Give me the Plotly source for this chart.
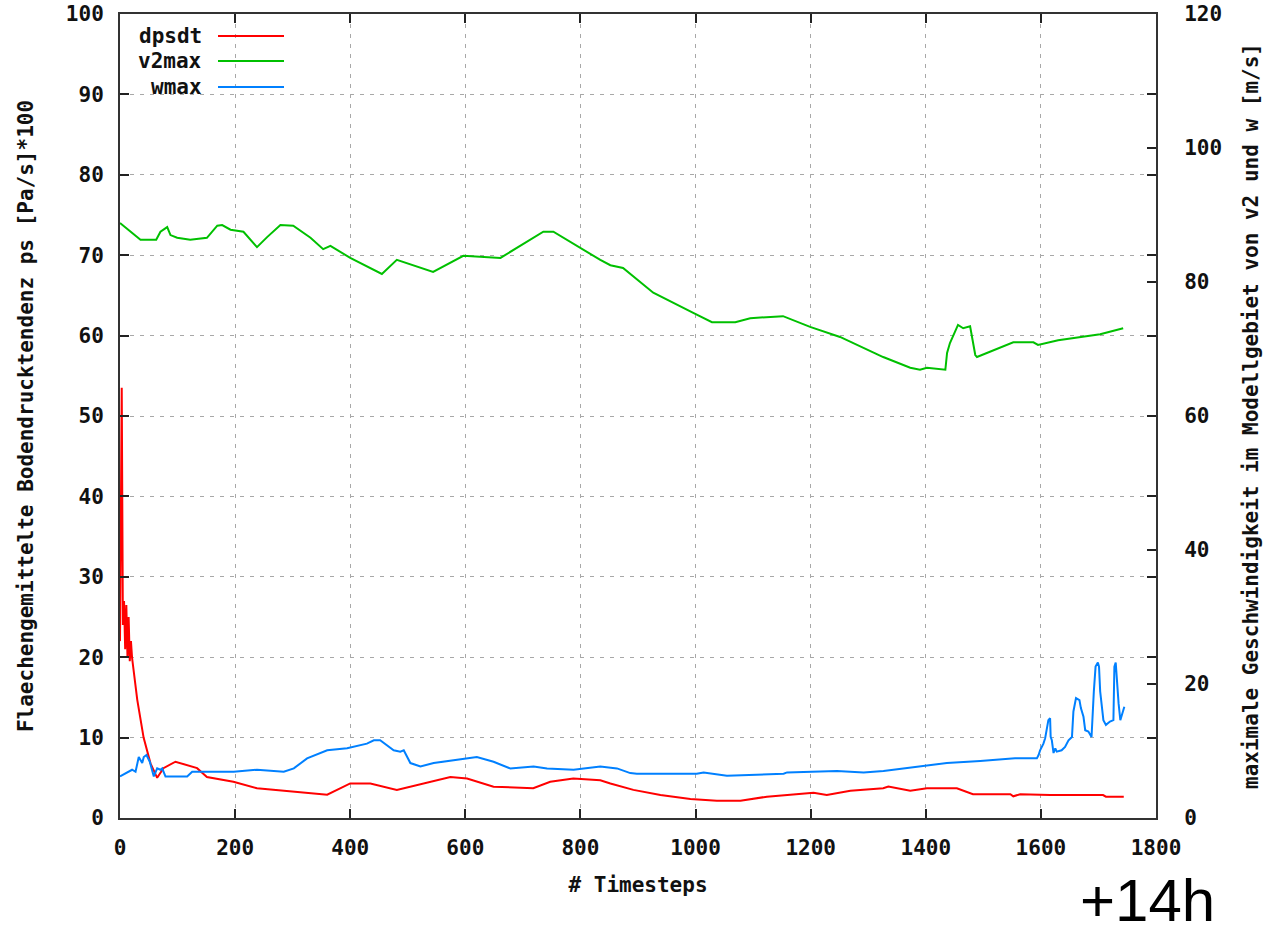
import plotly.graph_objects as go

# ---- data ----
dpsdt_x = [0, 3, 5, 7, 9, 11, 13, 15, 17, 19, 21, 30, 41, 53, 64.6, 75.5, 96.4, 134, 151, 197, 238, 301,
           360, 400, 435, 481, 574, 603, 649, 718, 747.5, 787.6, 834.5, 852, 892, 939, 991, 1037, 1078,
           1124, 1152, 1205, 1228, 1269, 1326, 1335, 1373, 1402, 1454, 1482, 1547, 1552, 1564, 1616,
           1708, 1713, 1744]
dpsdt_y = [22, 53.5, 24, 27, 21, 26.5, 20, 25, 19.5, 22, 19.9, 14.7, 10.0, 6.8, 5.0, 6.2, 7.0, 6.2, 5.1,
           4.5, 3.7, 3.3, 2.9, 4.3, 4.3, 3.5, 5.1, 4.9, 3.9, 3.7, 4.5, 4.9, 4.7, 4.3, 3.5, 2.85, 2.35,
           2.15, 2.15, 2.65, 2.85, 3.15, 2.85, 3.4, 3.7, 3.9, 3.4, 3.7, 3.7, 2.95, 2.95, 2.7, 2.95, 2.85,
           2.85, 2.65, 2.65]

v2max_x = [0, 35.6, 62.9, 70.3, 82, 87.7, 99.3, 122, 151, 169, 177.5, 192, 214.5, 238, 255.6, 278.7,
           301, 331, 353, 365.6, 400, 455, 481, 544, 596.5, 661, 735.5, 753, 834.5, 852, 874, 926.5,
           996, 1028.5, 1069, 1095, 1152, 1199, 1251, 1326, 1373, 1390, 1402, 1434, 1437, 1442, 1456,
           1465, 1477, 1486, 1489, 1552, 1587, 1595, 1630, 1703, 1743]
v2max_y = [88.8, 86.3, 86.3, 87.5, 88.2, 87.0, 86.6, 86.3, 86.6, 88.4, 88.5, 87.8, 87.5, 85.2, 86.7,
           88.5, 88.4, 86.6, 84.9, 85.4, 83.6, 81.2, 83.3, 81.5, 83.9, 83.6, 87.5, 87.5, 83.3, 82.5,
           82.1, 78.4, 75.4, 74.0, 74.0, 74.6, 74.9, 73.3, 71.8, 68.8, 67.2, 66.9, 67.2, 66.9, 69.4,
           70.9, 73.6, 73.1, 73.4, 69.1, 68.8, 71.0, 71.0, 70.6, 71.3, 72.2, 73.1]

wmax_x = [0, 21, 27, 32.6, 38.6, 41.3, 46, 51.8, 58.7, 64.6, 70.3, 73.3, 79, 116.7, 125.4, 197.6, 238,
          284.5, 302, 325, 360, 394.6, 429, 441, 452, 475.5, 487, 493, 504.5, 522, 545, 562, 591, 620,
          649, 678, 718.6, 742, 788, 834.5, 863.5, 886.6, 898, 1002, 1014, 1054.5, 1153, 1159, 1245.6,
          1292, 1326.5, 1355.5, 1384.5, 1436.6, 1494.5, 1555, 1593, 1596, 1598.6, 1604.4, 1607.4,
          1610.3, 1613, 1616, 1617, 1619, 1622, 1625, 1627.6, 1636, 1642, 1648, 1654, 1656.5, 1661,
          1667, 1669.5, 1674, 1677, 1682.5, 1688, 1692, 1695, 1699, 1701, 1703, 1708.6, 1713, 1720,
          1726, 1727.7, 1730, 1732, 1735, 1738, 1741, 1745]
wmax_y = [6.2, 7.2, 6.9, 9.1, 8.2, 9.1, 9.4, 8.4, 6.2, 7.4, 7.2, 7.4, 6.2, 6.2, 6.9, 6.9, 7.2, 6.9, 7.4,
          8.9, 10.1, 10.4, 11.1, 11.6, 11.6, 10.1, 9.9, 10.1, 8.2, 7.7, 8.2, 8.4, 8.7, 9.1, 8.4, 7.4,
          7.7, 7.4, 7.2, 7.7, 7.4, 6.7, 6.6, 6.6, 6.8, 6.3, 6.6, 6.8, 7.0, 6.8, 7.0, 7.3, 7.7, 8.2,
          8.5, 8.9, 8.9, 9.4, 10.1, 11.1, 11.9, 13.1, 14.6, 14.9, 12.1, 11.6, 9.7, 10.4, 9.9, 10.1,
          10.6, 11.6, 12.1, 15.9, 17.9, 17.6, 16.4, 15.1, 13.1, 12.9, 12.1, 18.9, 22.6, 23.2, 22.6,
          18.9, 14.6, 13.9, 14.4, 14.6, 22.6, 23.2, 20.3, 17.1, 14.6, 15.6, 16.6]

series_names = ["dpsdt", "v2max", "wmax"]
series_colors = ["#ff0000", "#00c000", "#0080ff"]

x_ticks = list(range(0, 1801, 200))
y_ticks = list(range(0, 101, 10))
y2_ticks = list(range(0, 121, 20))

x_title = "# Timesteps"
y_title = "Flaechengemittelte Bodendrucktendenz ps [Pa/s]*100"
y2_title = "maximale Geschwindigkeit im Modellgebiet von v2 und w [m/s]"
corner_label = "+14h"

# ---- figure ----
W, H = 1272, 935
ML, MR, MT, MB = 120, 116, 14, 117
PW, PH = W - ML - MR, H - MT - MB

def px(xp):
    return (xp - ML) / PW

def py(yp):
    return (H - MB - yp) / PH

mono = "DejaVu Sans Mono"
fs = 21

fig = go.Figure()
fig.add_trace(go.Scatter(x=dpsdt_x, y=dpsdt_y, mode="lines", name=series_names[0],
                         line=dict(color=series_colors[0], width=2), yaxis="y"))
fig.add_trace(go.Scatter(x=v2max_x, y=v2max_y, mode="lines", name=series_names[1],
                         line=dict(color=series_colors[1], width=2), yaxis="y2"))
fig.add_trace(go.Scatter(x=wmax_x, y=wmax_y, mode="lines", name=series_names[2],
                         line=dict(color=series_colors[2], width=2), yaxis="y2"))

axis_common = dict(showline=True, linecolor="#333333", linewidth=2, ticks="inside", ticklen=9,
                   tickwidth=2, tickcolor="#222222", zeroline=False, automargin=False,
                   tickfont=dict(family=mono, size=fs, color="#111111", weight="bold"))

fig.update_layout(
    width=W, height=H, margin=dict(l=ML, r=MR, t=MT, b=MB, autoexpand=False),
    paper_bgcolor="white", plot_bgcolor="white", showlegend=False,
    xaxis=dict(range=[0, 1800], tickvals=x_ticks, mirror="ticks", showgrid=True,
               gridcolor="#a8a8a8", gridwidth=1, griddash="4px,6px",
               ticklabelstandoff=10,
               title=dict(text=x_title, font=dict(family=mono, size=fs, color="#111111", weight="bold"),
                          standoff=18),
               **axis_common),
    yaxis=dict(range=[0, 100], tickvals=y_ticks, mirror="ticks", showgrid=True,
               gridcolor="#a8a8a8", gridwidth=1, griddash="4px,6px",
               ticklabelstandoff=10,
               title=dict(text=y_title, font=dict(family=mono, size=fs, color="#111111", weight="bold"),
                          standoff=27),
               **axis_common),
    yaxis2=dict(range=[0, 120], tickvals=y2_ticks, overlaying="y", side="right", showgrid=False,
                ticklabelstandoff=22,
                title=dict(text=y2_title, font=dict(family=mono, size=fs, color="#111111", weight="bold"),
                           standoff=22),
                **axis_common),
)

# white box behind the key (hides the grid there, like the original)
fig.add_shape(type="rect", xref="paper", yref="paper", x0=px(ML + 1), x1=px(297), y0=py(97), y1=py(MT + 1),
              fillcolor="white", line=dict(width=0), layer="between")

# key: right-aligned labels with line samples to the right
key_y = [36, 61, 87]
for name, col, yy in zip(series_names, series_colors, key_y):
    fig.add_annotation(xref="paper", yref="paper", x=px(204), y=py(yy), text=name, showarrow=False,
                       xanchor="right", yanchor="middle",
                       font=dict(family=mono, size=fs, color="#111111", weight="bold"))
    fig.add_shape(type="line", xref="paper", yref="paper", x0=px(218), x1=px(284), y0=py(yy), y1=py(yy),
                  line=dict(color=col, width=2))

fig.add_annotation(xref="paper", yref="paper", x=px(1147), y=py(900), text=corner_label, showarrow=False,
                   xanchor="center", yanchor="middle",
                   font=dict(family="Liberation Sans, Arial", size=60, color="#000000"))

fig.write_html("out.html")
